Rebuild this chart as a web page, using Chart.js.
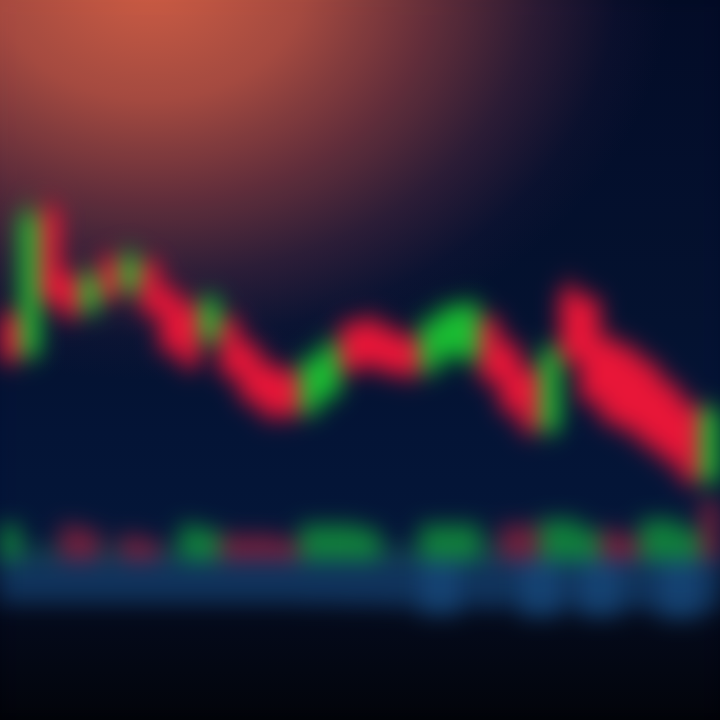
<!DOCTYPE html>
<html lang="en">
<head>
    <meta charset="UTF-8">
    <title>Price Candles</title>
    <script src="https://cdn.jsdelivr.net/npm/chart.js@4.4.0/dist/chart.umd.min.js"></script>
    <style>
        html, body {
            margin: 0;
            padding: 0;
            background: #02030a;
        }
        .chart-wrap {
            width: 720px;
            height: 720px;
            overflow: hidden;
            position: relative;
            background:
                radial-gradient(ellipse 520px 400px at 150px -20px,
                    rgba(208, 92, 66, 1) 0%,
                    rgba(180, 78, 64, 0.92) 30%,
                    rgba(130, 55, 62, 0.75) 55%,
                    rgba(80, 38, 62, 0.5) 75%,
                    rgba(40, 25, 60, 0.2) 90%,
                    rgba(20, 20, 60, 0) 100%),
                linear-gradient(to bottom, #020a24 0%, #03102e 45%, #031234 60%, #031436 74%, #06183a 78%, #030818 86%, #010207 100%);
        }
        canvas {
            filter: blur(11px);
        }
    </style>
</head>
<body>
    <div class="chart-wrap">
        <canvas id="priceChart" width="720" height="720"></canvas>
    </div>

    <script>
        // One entry per session
        const sessions = ['S1','S2','S3','S4','S5','S6','S7','S8','S9','S10','S11','S12',
                          'S13','S14','S15','S16','S17','S18','S19','S20','S21','S22','S23','S24',
                          'S25','S26','S27','S28','S29','S30','S31','S32','S33','S34','S35','S36'];

        const opens  = [40.5, 36.5, 51.0, 44.5, 41.0, 46.2, 43.0, 45.8, 43.0, 41.5, 38.0, 40.0,
                        37.5, 35.5, 34.8, 30.8, 32.5, 39.5, 40.0, 39.0, 38.2, 35.0, 36.5, 36.2,
                        40.0, 37.5, 35.0, 29.0, 43.0, 42.0, 38.0, 37.0, 35.5, 33.5, 31.5, 24.0];
        const closes = [36.0, 50.5, 42.0, 40.5, 44.5, 42.2, 46.3, 40.8, 37.0, 35.5, 42.0, 34.5,
                        32.0, 30.5, 30.5, 36.0, 37.5, 35.0, 35.5, 34.8, 34.5, 39.8, 41.2, 41.5,
                        34.0, 31.0, 29.0, 37.0, 36.0, 32.0, 30.0, 29.0, 27.5, 26.0, 24.0, 31.0];
        const highs  = [41.5, 52.0, 52.5, 45.5, 45.5, 47.0, 47.5, 46.5, 44.0, 42.5, 43.0, 41.0,
                        38.5, 36.5, 35.5, 37.0, 38.5, 40.5, 41.0, 40.0, 39.0, 41.0, 42.0, 42.5,
                        41.0, 38.5, 36.0, 38.0, 44.5, 43.0, 39.0, 38.0, 36.5, 34.5, 32.5, 32.0];
        const lows   = [35.0, 35.5, 41.0, 39.5, 40.0, 41.5, 42.0, 40.0, 36.0, 34.5, 37.0, 33.5,
                        31.0, 29.5, 29.5, 30.0, 31.5, 34.0, 34.5, 34.0, 33.5, 34.0, 35.5, 35.0,
                        33.0, 30.0, 28.0, 28.0, 35.0, 31.0, 29.0, 28.0, 26.5, 25.0, 23.0, 23.0];

        // Traded volume and its direction (1 up, -1 down, 0 flat)
        const volumes   = [3.5, 1.5, 1.5, 3.5, 3.0, 1.5, 2.5, 2.0, 1.5, 3.5, 3.0, 2.5,
                           2.5, 2.5, 2.0, 3.5, 3.5, 3.5, 3.0, 1.5, 1.5, 3.5, 3.5, 3.5,
                           2.0, 3.5, 3.5, 4.0, 4.0, 3.0, 3.0, 2.5, 4.0, 4.0, 3.0, 6.0];
        const volumeDir = [1, 0, 0, -1, -1, 0, -1, -1, 0, 1, 1, -1,
                           -1, -1, -1, 1, 1, 1, 1, 0, 0, 1, 1, 1,
                           0, -1, -1, 1, 1, 1, -1, -1, 1, 1, 1, -1];

        // Lower indicator histogram (plotted downward)
        const flow = [-4.2, -4.2, -4.2, -4.2, -4.2, -4.2, -4.2, -4.2, -4.2, -4.2, -4.2, -4.2,
                      -4.2, -4.2, -4.2, -4.3, -4.3, -4.4, -4.4, -4.5, -4.6, -5.4, -5.4, -4.6,
                      -4.8, -4.6, -5.6, -5.6, -4.8, -5.6, -5.6, -4.8, -5.0, -5.8, -5.8, -5.0];

        const UP = 'rgb(26, 190, 50)';
        const DOWN = 'rgb(232, 22, 56)';

        const candleColors = opens.map((o, i) => closes[i] >= o ? UP : DOWN);
        const volumeColors = volumeDir.map(d => d > 0 ? 'rgba(20, 160, 60, 0.75)'
                                            : d < 0 ? 'rgba(180, 36, 62, 0.6)'
                                            : 'rgba(30, 100, 84, 0.45)');
        const flowColors = flow.map(f => f < -5 ? 'rgba(26, 82, 136, 0.75)' : 'rgba(20, 64, 110, 0.7)');

        const ctx = document.getElementById('priceChart').getContext('2d');
        new Chart(ctx, {
            type: 'bar',
            data: {
                labels: sessions,
                datasets: [
                    {
                        label: 'Wick',
                        data: lows.map((l, i) => [l, highs[i]]),
                        backgroundColor: candleColors,
                        barThickness: 3,
                        grouped: false,
                        yAxisID: 'y'
                    },
                    {
                        label: 'Body',
                        data: opens.map((o, i) => [o, closes[i]]),
                        backgroundColor: candleColors,
                        barPercentage: 1.0,
                        categoryPercentage: 1.0,
                        grouped: false,
                        yAxisID: 'y'
                    },
                    {
                        label: 'Volume',
                        data: volumes,
                        backgroundColor: volumeColors,
                        barPercentage: 1.0,
                        categoryPercentage: 1.0,
                        grouped: false,
                        yAxisID: 'yVol'
                    },
                    {
                        label: 'Flow',
                        data: flow,
                        backgroundColor: flowColors,
                        barPercentage: 1.0,
                        categoryPercentage: 1.0,
                        grouped: false,
                        yAxisID: 'yVol'
                    }
                ]
            },
            options: {
                responsive: false,
                animation: false,
                layout: { padding: 0 },
                scales: {
                    x: {
                        grid: { color: 'rgba(90, 120, 190, 0.22)', lineWidth: 2, drawTicks: false, offset: false },
                        ticks: { display: false },
                        border: { display: false }
                    },
                    y: {
                        display: false,
                        min: 0,
                        max: 72
                    },
                    yVol: {
                        display: false,
                        min: -16,
                        max: 56
                    }
                },
                plugins: {
                    legend: { display: false },
                    tooltip: { enabled: false }
                }
            }
        });
    </script>
</body>
</html>
